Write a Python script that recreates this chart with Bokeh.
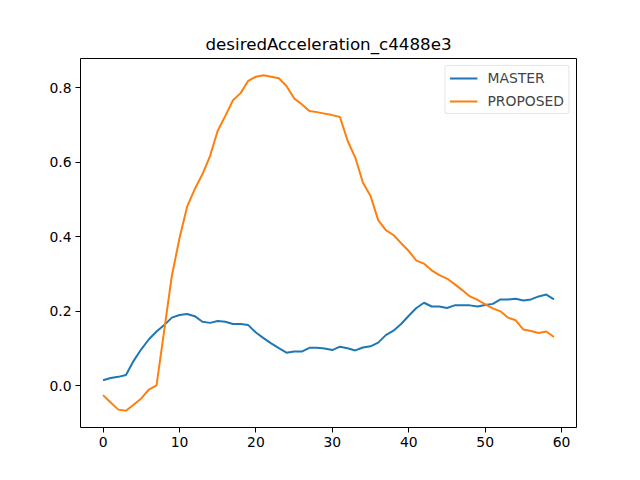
from bokeh.plotting import figure
from bokeh.models import Range1d, FixedTicker, CustomJSTickFormatter, Legend, LegendItem
from bokeh.embed import file_html
from bokeh.resources import INLINE

step = list(range(60))
master = [0.015, 0.021, 0.024, 0.029, 0.067, 0.098, 0.125, 0.146, 0.163, 0.183,
          0.190, 0.193, 0.187, 0.172, 0.169, 0.174, 0.172, 0.166, 0.166, 0.163,
          0.143, 0.128, 0.114, 0.101, 0.089, 0.092, 0.092, 0.102, 0.102, 0.100,
          0.096, 0.105, 0.101, 0.095, 0.103, 0.106, 0.116, 0.136, 0.148, 0.166,
          0.188, 0.209, 0.223, 0.213, 0.213, 0.209, 0.216, 0.216, 0.216, 0.213,
          0.217, 0.220, 0.232, 0.232, 0.234, 0.229, 0.232, 0.240, 0.245, 0.232]
proposed = [-0.025, -0.045, -0.064, -0.067, -0.051, -0.034, -0.010, 0.001, 0.148, 0.295,
            0.396, 0.481, 0.528, 0.568, 0.617, 0.685, 0.725, 0.767, 0.786, 0.819,
            0.830, 0.834, 0.830, 0.826, 0.805, 0.772, 0.756, 0.738, 0.735, 0.731,
            0.727, 0.722, 0.658, 0.613, 0.546, 0.510, 0.445, 0.418, 0.405, 0.383,
            0.362, 0.336, 0.328, 0.310, 0.297, 0.288, 0.273, 0.257, 0.240, 0.231,
            0.219, 0.208, 0.200, 0.183, 0.176, 0.151, 0.147, 0.142, 0.146, 0.131]
x_ticks = [0, 10, 20, 30, 40, 50, 60]
y_ticks = [0.0, 0.2, 0.4, 0.6, 0.8]
title_text = "desiredAcceleration_c4488e3"
series_names = ["MASTER", "PROPOSED"]

FONT = "DejaVu Sans"

p = figure(width=624, height=464, output_backend="svg", toolbar_location=None,
           x_range=Range1d(-2.95, 61.95), y_range=Range1d(-0.112, 0.879),
           min_border_left=80, min_border_right=48, min_border_top=58, min_border_bottom=37)
p.title.text = title_text
p.title.text_font = FONT
p.title.text_font_size = "16.7px"
p.title.text_font_style = "normal"
p.title.align = "center"
p.title.text_color = "black"

p.xgrid.visible = False
p.ygrid.visible = False
p.outline_line_color = "black"
p.outline_line_width = 1
p.background_fill_color = "white"
p.border_fill_color = "white"

for ax in (p.xaxis[0], p.yaxis[0]):
    ax.major_label_text_font = FONT
    ax.major_label_text_font_size = "13.9px"
    ax.major_label_text_color = "black"
    ax.axis_line_color = None
    ax.major_tick_line_color = "black"
    ax.major_tick_out = 5
    ax.major_tick_in = 0
    ax.minor_tick_line_color = None
    ax.major_label_standoff = 4

p.xaxis[0].ticker = FixedTicker(ticks=x_ticks)
p.yaxis[0].ticker = FixedTicker(ticks=y_ticks)
p.yaxis[0].formatter = CustomJSTickFormatter(code="return tick.toFixed(1);")

r1 = p.line(step, master, line_color="#1f77b4", line_width=2)
r2 = p.line(step, proposed, line_color="#ff7f0e", line_width=2)

legend = Legend(items=[LegendItem(label=series_names[0], renderers=[r1]),
                       LegendItem(label=series_names[1], renderers=[r2])],
                location="top_right")
legend.label_text_font = FONT
legend.label_text_font_size = "13.9px"
legend.border_line_color = "#cccccc"
legend.border_line_width = 1
legend.border_radius = 3
legend.margin = 7
legend.padding = 4
legend.spacing = 7
legend.glyph_width = 28
legend.glyph_height = 16
legend.label_height = 16
legend.label_standoff = 10
p.add_layout(legend)

open("out.html", "w").write(file_html(p, INLINE))
